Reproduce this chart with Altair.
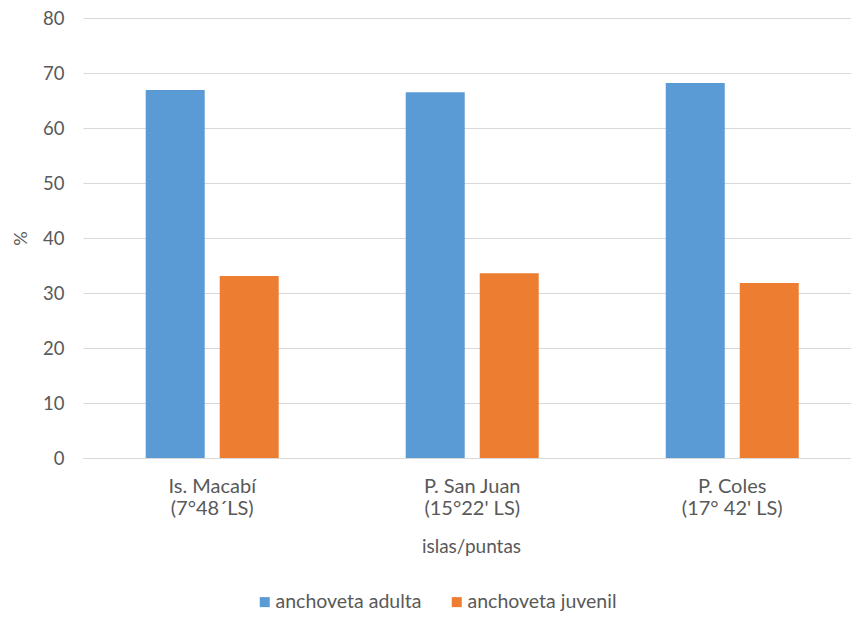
import altair as alt
import pandas as pd

categories = ["Is. Macabí|(7°48´LS)", "P. San Juan|(15°22' LS)", "P. Coles|(17° 42' LS)"]
series = ["anchoveta adulta", "anchoveta juvenil"]
adulta = [66.9, 66.5, 68.2]
juvenil = [33.1, 33.6, 31.8]
colors = ["#5B9BD5", "#ED7D31"]

rows = []
for i, c in enumerate(categories):
    rows.append({"cat": c, "serie": series[0], "val": adulta[i]})
    rows.append({"cat": c, "serie": series[1], "val": juvenil[i]})
df = pd.DataFrame(rows)

font = "Lato"
txt = "#595959"

chart = alt.Chart(df).mark_bar().encode(
    x=alt.X("cat:N", sort=categories,
            scale=alt.Scale(paddingInner=0.4885, paddingOuter=0.2365, align=0.51),
            axis=alt.Axis(title="islas/puntas", labelAngle=0,
                          labelExpr="split(datum.label, '|')",
                          labelFont=font, labelFontSize=20, labelColor=txt,
                          labelPadding=18, labelLineHeight=22,
                          titleFont=font, titleFontSize=19, titleFontWeight="normal",
                          titleColor=txt, titlePadding=19,
                          domainColor="#d9d9d9", ticks=False)),
    xOffset=alt.XOffset("serie:N", sort=series,
                        scale=alt.Scale(paddingInner=0.2027, paddingOuter=0)),
    y=alt.Y("val:Q", scale=alt.Scale(domain=[0, 80], nice=False),
            axis=alt.Axis(title="%", values=list(range(0, 81, 10)),
                          labelFont=font, labelFontSize=18.5, labelColor=txt,
                          labelPadding=19, domain=False, ticks=False,
                          gridColor="#d9d9d9", titleFont=font, titleFontSize=18,
                          titleFontWeight="normal", titleColor=txt,
                          titlePadding=12)),
    color=alt.Color("serie:N", sort=series,
                    scale=alt.Scale(domain=series, range=colors),
                    legend=alt.Legend(title=None, orient="none", legendX=172, legendY=574,
                                      direction="horizontal", columns=2,
                                      symbolType="square", symbolSize=100,
                                      labelFont=font, labelFontSize=19.5,
                                      labelColor=txt, columnPadding=25,
                                      labelOffset=1, symbolStrokeWidth=0)),
).properties(
    width=776, height=440,
    padding={"left": 75, "top": 10, "right": -8, "bottom": 153},
    autosize=alt.AutoSizeParams(type="none"),
).configure_view(stroke=None)

chart.save("out.html", embed_options={"renderer": "svg", "actions": False})
